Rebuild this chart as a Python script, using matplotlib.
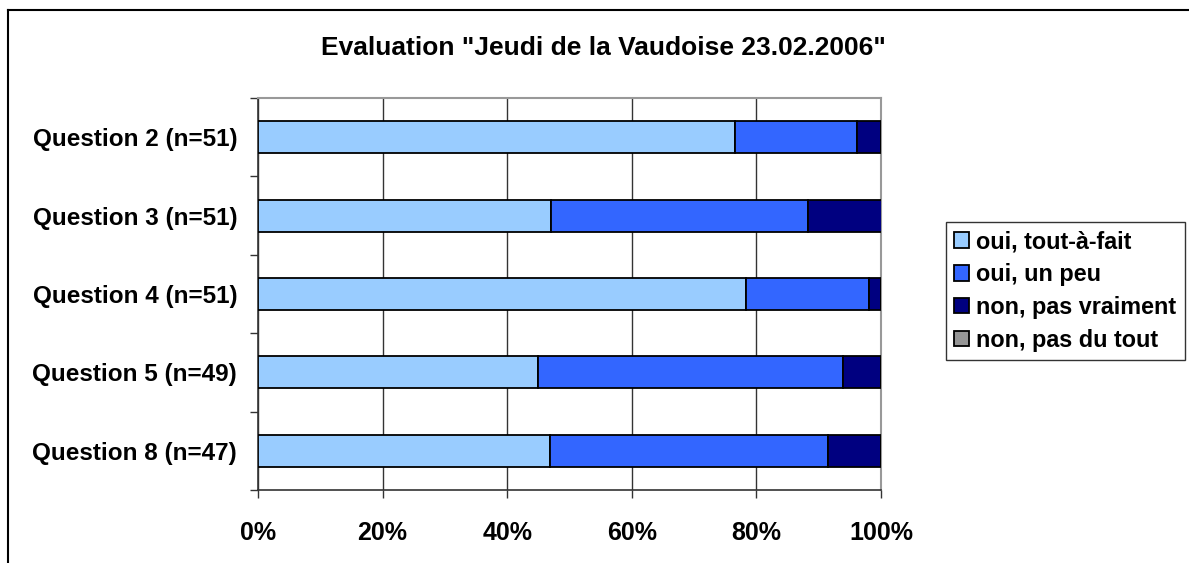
import numpy as np
import matplotlib
matplotlib.use("Agg")
import matplotlib.pyplot as plt
from matplotlib.lines import Line2D

plt.rcParams['font.family'] = ['Liberation Sans', 'DejaVu Sans']
plt.rcParams['font.weight'] = 'bold'

questions = ["Question 2 (n=51)", "Question 3 (n=51)", "Question 4 (n=51)",
             "Question 5 (n=49)", "Question 8 (n=47)"]
series = ["oui, tout-à-fait", "oui, un peu", "non, pas vraiment", "non, pas du tout"]
# shares in percent
tout_a_fait = [76.5, 47.1, 78.4, 44.9, 46.8]
un_peu = [19.6, 41.2, 19.6, 49.0, 44.7]
pas_vraiment = [3.9, 11.8, 2.0, 6.1, 8.5]
pas_du_tout = [0, 0, 0, 0, 0]
colors = ["#99CCFF", "#3366FF", "#000080", "#969696"]

fig = plt.figure(figsize=(11.89, 5.63), dpi=100)
ax = fig.add_axes([258 / 1189, 1 - 490 / 563, 623 / 1189, 392 / 563])

y = np.arange(len(questions))
left = np.zeros(len(questions))
for vals, name, c in zip([tout_a_fait, un_peu, pas_vraiment, pas_du_tout], series, colors):
    vals = np.array(vals)
    ax.barh(y, vals, left=left, height=0.41, color=c, edgecolor="black",
            linewidth=1.3, label=name, zorder=3)
    left += vals

ax.set_xlim(0, 100)
ax.set_ylim(len(questions) - 0.5, -0.5)
ax.set_xticks(np.arange(0, 101, 20))
ax.set_xticklabels([f"{v}%" for v in range(0, 101, 20)], fontsize=18)
ax.set_yticks(y)
ax.set_yticklabels(questions, fontsize=17.5)
ax.set_yticks(np.arange(-0.5, len(questions)), minor=True)
ax.tick_params(axis="y", which="major", length=0, pad=15)
ax.tick_params(axis="y", which="minor", length=6, direction="out", width=1, color="#333333")
ax.tick_params(axis="x", length=6, width=1, color="#333333", pad=16)
ax.grid(axis="x", color="#333333", linewidth=1, zorder=0)
for s in ["top", "right"]:
    ax.spines[s].set_color("#999999")
    ax.spines[s].set_linewidth(1.5)
for s in ["left", "bottom"]:
    ax.spines[s].set_color("#333333")
    ax.spines[s].set_linewidth(1.2)

fig.text(603 / 1189, 1 - 48 / 563, 'Evaluation "Jeudi de la Vaudoise 23.02.2006"',
         ha="center", va="center", fontsize=19, fontweight="bold")

leg = fig.legend(loc="upper left", bbox_to_anchor=(946 / 1189, 1 - 222 / 563),
                 fontsize=16.8, frameon=True, fancybox=False, edgecolor="black",
                 handlelength=0.65, handleheight=0.65, handletextpad=0.3,
                 labelspacing=0.42, borderpad=0.35, borderaxespad=0)
leg.get_frame().set_linewidth(1)

# outer chart border (only left and top edges fall inside the image)
fig.add_artist(Line2D([8 / 1189, 8 / 1189], [0, 1 - 10 / 563], transform=fig.transFigure,
                      color="black", linewidth=1.5))
fig.add_artist(Line2D([8 / 1189, 1], [1 - 10 / 563, 1 - 10 / 563], transform=fig.transFigure,
                      color="black", linewidth=1.5))

fig.savefig("out.png", dpi=100)
